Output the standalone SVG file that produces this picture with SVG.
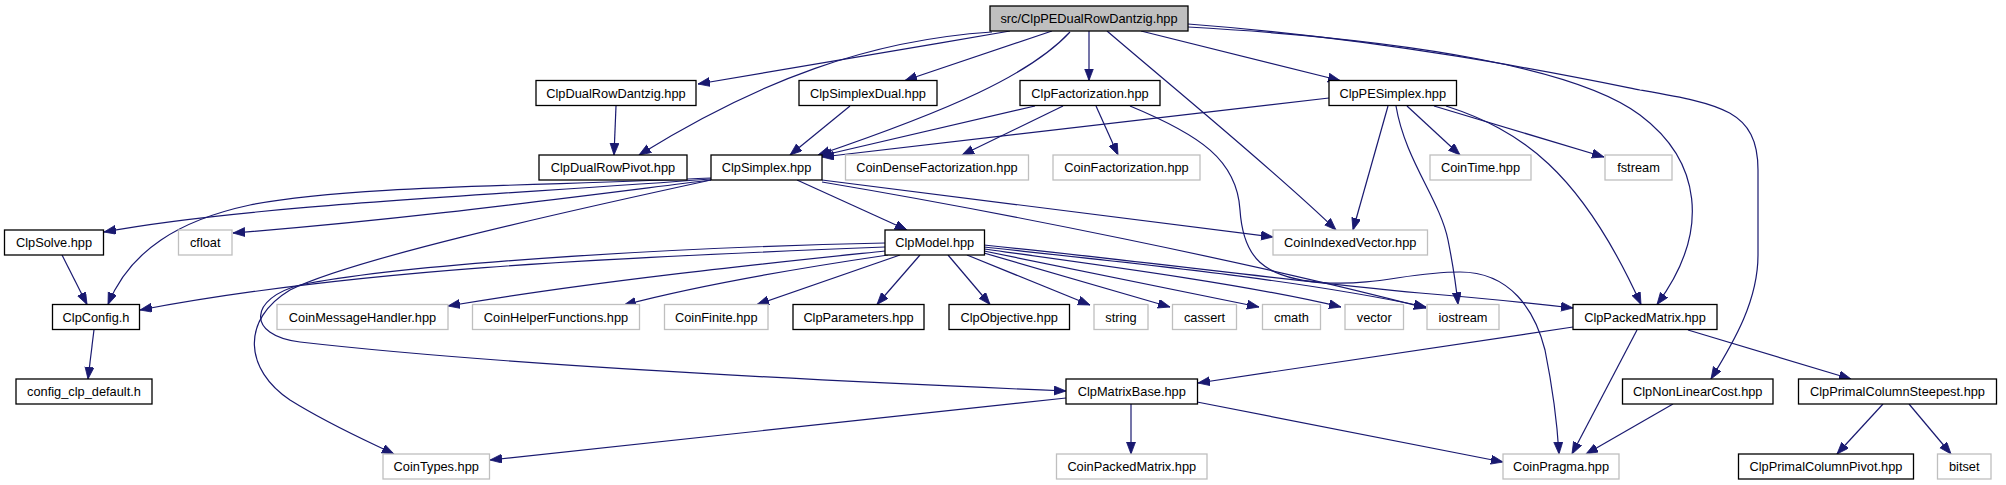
<svg xmlns="http://www.w3.org/2000/svg" width="2006" height="485" viewBox="0 0 2006 485">
<style>
.n rect{stroke:#000;stroke-width:1.3;fill:#fff}
.g rect{stroke:#bfbfbf;stroke-width:1.3;fill:#fff}
.r rect{stroke:#000;stroke-width:1.3;fill:#bfbfbf}
text{font-family:"Liberation Sans",Arial,Helvetica,sans-serif;font-size:12.8px;fill:#000;text-anchor:middle}
#edges path{fill:none;stroke:#191970;stroke-width:1.2;marker-end:url(#ah)}
</style>
<defs>
<marker id="ah" markerUnits="userSpaceOnUse" markerWidth="13" markerHeight="10" refX="12" refY="4.5" orient="auto">
<path d="M0,0 L12,4.5 L0,9 z" fill="#191970" stroke="#191970" stroke-width="0.8"/>
</marker>
</defs>
<rect width="2006" height="485" fill="#fff"/>
<g id="edges">
<path d="M1010,31 C900,50 780,70 698,84"/>
<path d="M992,32 C870,40 760,80 639,155"/>
<path d="M1052,31 L905,80.5"/>
<path d="M1070,32 C1030,75 950,110 818,155"/>
<path d="M1089,31 L1089,80.5"/>
<path d="M1107,31 C1170,85 1280,175 1336,230"/>
<path d="M1141,31 L1340,80.5"/>
<path d="M1188,27 C1420,40 1580,70 1640,115 C1700,160 1712,230 1657,304.5"/>
<path d="M1188,24 C1400,40 1580,78 1640,90 C1720,104 1758,110 1758,170 L1758,255 C1758,300 1735,340 1711,379"/>
<path d="M616,106 L614,155"/>
<path d="M850,106 L790,155"/>
<path d="M1035,106 L820,156"/>
<path d="M1063,106 L962,155"/>
<path d="M1096,106 L1118,155"/>
<path d="M1130,106 C1200,135 1237,160 1240,210 C1243,255 1260,280 1330,283 C1380,285 1410,272 1460,272 C1510,272 1535,310 1545,350 C1552,385 1557,420 1559,454"/>
<path d="M1329,98 L822,157"/>
<path d="M1388,106 L1353,230"/>
<path d="M1396,106 C1405,160 1440,200 1448,240 C1453,265 1456,285 1458,304.5"/>
<path d="M1407,106 L1460,155"/>
<path d="M1434,106 L1604,157"/>
<path d="M1446,106 C1520,130 1580,170 1641,304.5"/>
<path d="M711,179 C500,195 250,205 104,232"/>
<path d="M711,180 C550,200 400,220 233,233"/>
<path d="M711,178 C550,186 350,185 250,205 C180,220 130,250 108,304.5"/>
<path d="M797,180 L907,230"/>
<path d="M822,180 L1273,237"/>
<path d="M822,182 C1000,212 1250,262 1426,308"/>
<path d="M711,180 C550,215 350,260 290,290 C240,320 245,370 290,400 C330,425 365,440 394,454"/>
<path d="M62,255 L87,304.5"/>
<path d="M94,329.5 L88,379"/>
<path d="M885,247 C600,258 350,270 140,310"/>
<path d="M885,251 C780,262 600,280 448,306"/>
<path d="M888,255 C800,268 700,285 624,305"/>
<path d="M900,255 L757,304.5"/>
<path d="M920,255 L877,304.5"/>
<path d="M948,255 L990,304.5"/>
<path d="M967,255 L1090,305"/>
<path d="M984,253 L1170,307"/>
<path d="M984,251 L1259,307"/>
<path d="M984,249 C1100,265 1250,285 1341,307"/>
<path d="M984,247 C1150,265 1300,280 1426,307"/>
<path d="M984,245 C1150,262 1300,282 1420,293 C1480,298 1530,303 1573,308"/>
<path d="M885,243 C650,248 400,265 300,285 C250,298 245,335 300,342 C500,365 800,380 1066,391"/>
<path d="M1573,327 L1198,383"/>
<path d="M1637,330 L1572,454"/>
<path d="M1688,330 L1851,379"/>
<path d="M1066,398 L490,460"/>
<path d="M1131,404 L1131,454"/>
<path d="M1197,402 L1503,462"/>
<path d="M1673,404 L1586,454"/>
<path d="M1883,404 L1837,454"/>
<path d="M1909,404 L1951,454"/>
</g>
<g id="n_top" class="r"><rect x="990" y="6" width="198" height="25"/><text x="1089" y="23">src/ClpPEDualRowDantzig.hpp</text></g>
<g id="n_dualrowdantzig" class="n"><rect x="536" y="80.5" width="160" height="25"/><text x="616" y="97.5">ClpDualRowDantzig.hpp</text></g>
<g id="n_simplexdual" class="n"><rect x="799" y="80.5" width="138" height="25"/><text x="868" y="97.5">ClpSimplexDual.hpp</text></g>
<g id="n_factorization" class="n"><rect x="1020" y="80.5" width="140" height="25"/><text x="1090" y="97.5">ClpFactorization.hpp</text></g>
<g id="n_pesimplex" class="n"><rect x="1329" y="80.5" width="127.5" height="25"/><text x="1392.75" y="97.5">ClpPESimplex.hpp</text></g>
<g id="n_dualrowpivot" class="n"><rect x="539" y="155" width="148" height="25"/><text x="613" y="172">ClpDualRowPivot.hpp</text></g>
<g id="n_simplex" class="n"><rect x="711" y="155" width="111" height="25"/><text x="766.5" y="172">ClpSimplex.hpp</text></g>
<g id="n_densefact" class="g"><rect x="845.5" y="155" width="183" height="25"/><text x="937" y="172">CoinDenseFactorization.hpp</text></g>
<g id="n_coinfact" class="g"><rect x="1053" y="155" width="147" height="25"/><text x="1126.5" y="172">CoinFactorization.hpp</text></g>
<g id="n_cointime" class="g"><rect x="1430" y="155" width="101" height="25"/><text x="1480.5" y="172">CoinTime.hpp</text></g>
<g id="n_fstream" class="g"><rect x="1605" y="155" width="67" height="25"/><text x="1638.5" y="172">fstream</text></g>
<g id="n_solve" class="n"><rect x="4.5" y="230" width="99" height="25"/><text x="54" y="247">ClpSolve.hpp</text></g>
<g id="n_cfloat" class="g"><rect x="178.5" y="230" width="53.5" height="25"/><text x="205.25" y="247">cfloat</text></g>
<g id="n_model" class="n"><rect x="885" y="230" width="99.5" height="25"/><text x="934.75" y="247">ClpModel.hpp</text></g>
<g id="n_indexedvector" class="g"><rect x="1273" y="230" width="154.5" height="25"/><text x="1350.25" y="247">CoinIndexedVector.hpp</text></g>
<g id="n_config" class="n"><rect x="52.5" y="304.5" width="87" height="25"/><text x="96" y="321.5">ClpConfig.h</text></g>
<g id="n_msghandler" class="g"><rect x="277" y="304.5" width="171" height="25"/><text x="362.5" y="321.5">CoinMessageHandler.hpp</text></g>
<g id="n_helper" class="g"><rect x="472.5" y="304.5" width="167" height="25"/><text x="556" y="321.5">CoinHelperFunctions.hpp</text></g>
<g id="n_finite" class="g"><rect x="664.5" y="304.5" width="103.5" height="25"/><text x="716.25" y="321.5">CoinFinite.hpp</text></g>
<g id="n_parameters" class="n"><rect x="793" y="304.5" width="131" height="25"/><text x="858.5" y="321.5">ClpParameters.hpp</text></g>
<g id="n_objective" class="n"><rect x="949" y="304.5" width="120.5" height="25"/><text x="1009.25" y="321.5">ClpObjective.hpp</text></g>
<g id="n_string" class="g"><rect x="1094" y="304.5" width="54" height="25"/><text x="1121" y="321.5">string</text></g>
<g id="n_cassert" class="g"><rect x="1172.5" y="304.5" width="64" height="25"/><text x="1204.5" y="321.5">cassert</text></g>
<g id="n_cmath" class="g"><rect x="1262.5" y="304.5" width="58" height="25"/><text x="1291.5" y="321.5">cmath</text></g>
<g id="n_vector" class="g"><rect x="1345" y="304.5" width="58.5" height="25"/><text x="1374.25" y="321.5">vector</text></g>
<g id="n_iostream" class="g"><rect x="1427" y="304.5" width="72" height="25"/><text x="1463" y="321.5">iostream</text></g>
<g id="n_packedmatrix" class="n"><rect x="1573" y="304.5" width="144" height="25"/><text x="1645" y="321.5">ClpPackedMatrix.hpp</text></g>
<g id="n_configdefault" class="n"><rect x="16" y="379" width="136" height="25"/><text x="84" y="396">config_clp_default.h</text></g>
<g id="n_matrixbase" class="n"><rect x="1066" y="379" width="131.5" height="25"/><text x="1131.75" y="396">ClpMatrixBase.hpp</text></g>
<g id="n_nonlinearcost" class="n"><rect x="1622.5" y="379" width="150.5" height="25"/><text x="1697.75" y="396">ClpNonLinearCost.hpp</text></g>
<g id="n_steepest" class="n"><rect x="1798.5" y="379" width="198" height="25"/><text x="1897.5" y="396">ClpPrimalColumnSteepest.hpp</text></g>
<g id="n_cointypes" class="g"><rect x="383" y="454" width="106.5" height="25"/><text x="436.25" y="471">CoinTypes.hpp</text></g>
<g id="n_coinpackedmatrix" class="g"><rect x="1056.5" y="454" width="150.5" height="25"/><text x="1131.75" y="471">CoinPackedMatrix.hpp</text></g>
<g id="n_pragma" class="g"><rect x="1503" y="454" width="116" height="25"/><text x="1561" y="471">CoinPragma.hpp</text></g>
<g id="n_pcpivot" class="n"><rect x="1738.5" y="454" width="175" height="25"/><text x="1826" y="471">ClpPrimalColumnPivot.hpp</text></g>
<g id="n_bitset" class="g"><rect x="1937.5" y="454" width="53.5" height="25"/><text x="1964.25" y="471">bitset</text></g>
</svg>
